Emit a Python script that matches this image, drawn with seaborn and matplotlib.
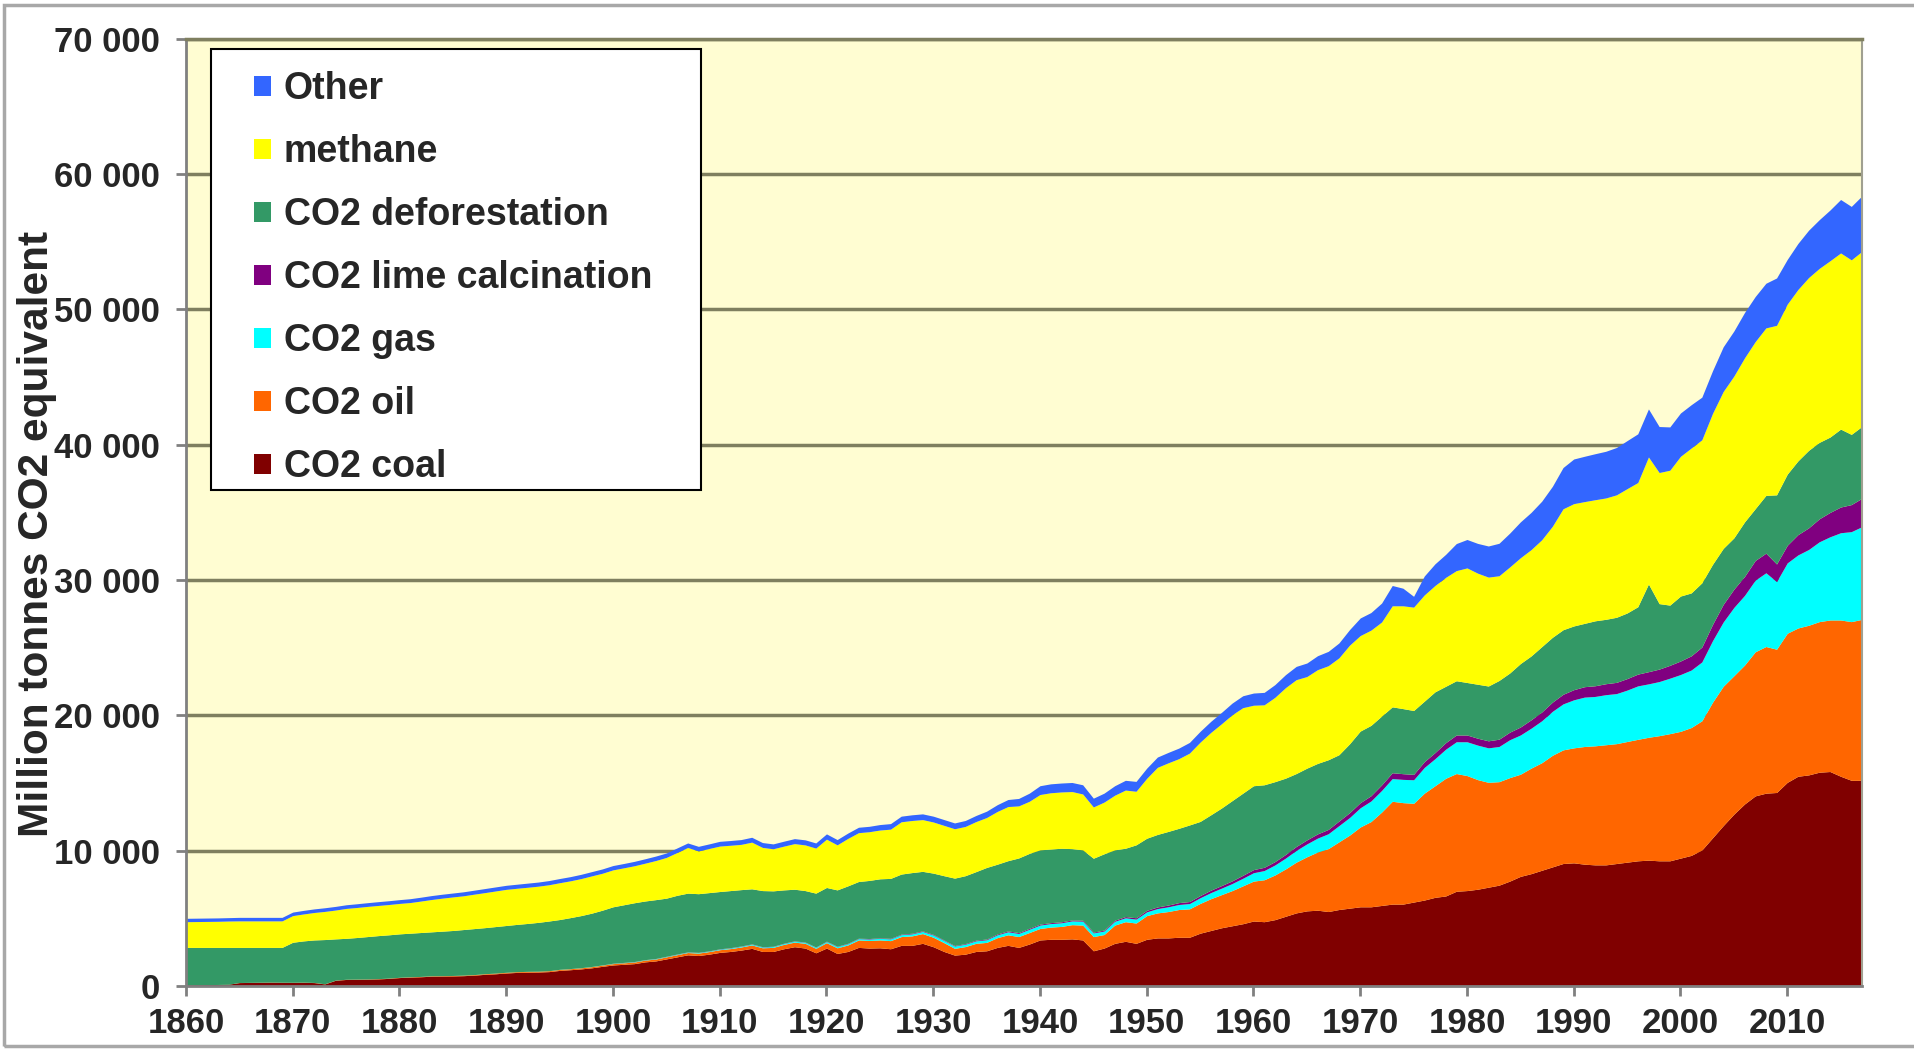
import matplotlib
matplotlib.use('Agg')
import matplotlib.pyplot as plt
import seaborn as sns
import pandas as pd
from matplotlib import font_manager
from matplotlib.ticker import FuncFormatter, MultipleLocator
from matplotlib.patches import Rectangle

# Million tonnes CO2 equivalent, one value per year 1860-2017
years = list(range(1860, 2018))

coal = [
    80, 90, 100, 110, 130, 250, 260, 270, 280, 270,
    260, 270, 250, 150, 420, 480, 490, 500, 520, 560,
    620, 650, 680, 720, 730, 740, 760, 800, 860, 900,
    960, 1000, 1020, 1030, 1060, 1150, 1200, 1260, 1340, 1450,
    1550, 1600, 1650, 1780, 1850, 2000, 2150, 2300, 2250, 2350,
    2480, 2550, 2650, 2780, 2550, 2550, 2750, 2900, 2800, 2450,
    2800, 2400, 2550, 2850, 2800, 2820, 2750, 3000, 3000, 3150,
    2900, 2550, 2280, 2350, 2550, 2600, 2850, 3000, 2850, 3100,
    3400, 3450, 3450, 3480, 3400, 2600, 2800, 3150, 3300, 3150,
    3450, 3550, 3550, 3600, 3600, 3900, 4100, 4300, 4450, 4600,
    4800, 4750, 4900, 5150, 5400, 5550, 5600, 5500, 5650, 5750,
    5850, 5850, 5950, 6050, 6050, 6200, 6350, 6550, 6650, 7000,
    7050, 7150, 7300, 7450, 7750, 8100, 8300, 8550, 8800, 9050,
    9100, 9000, 8950, 8950, 9050, 9150, 9250, 9300, 9250, 9250,
    9450, 9650, 10050, 10950, 11850, 12700, 13450, 14050, 14250, 14300,
    15050, 15500, 15600, 15800, 15850, 15500, 15200, 15200,
]

oil = [
    0, 0, 0, 0, 0, 5, 5, 5, 5, 5,
    10, 10, 10, 10, 10, 15, 15, 15, 20, 20,
    20, 25, 25, 30, 30, 35, 40, 40, 45, 50,
    50, 55, 60, 60, 65, 70, 75, 80, 85, 90,
    100, 110, 120, 130, 140, 150, 160, 170, 180, 190,
    200, 210, 230, 250, 270, 300, 320, 340, 350, 330,
    400, 420, 480, 550, 560, 580, 600, 650, 700, 720,
    700, 650, 500, 560, 600, 620, 720, 780, 800, 850,
    850, 900, 950, 1050, 1100, 1050, 1000, 1350, 1450, 1500,
    1750, 1850, 1950, 2050, 2100, 2200, 2350, 2450, 2600, 2800,
    2950, 3100, 3300, 3500, 3750, 4000, 4300, 4650, 5000, 5400,
    5900, 6300, 6900, 7600, 7500, 7300, 7900, 8250, 8700, 8700,
    8500, 8100, 7750, 7650, 7650, 7550, 7800, 7950, 8250, 8400,
    8500, 8700, 8800, 8880, 8860, 8920, 8980, 9080, 9250, 9400,
    9370, 9450, 9550, 10020, 10300, 10230, 10270, 10650, 10840, 10590,
    11020, 10960, 11060, 11130, 11200, 11550, 11730, 11900,
]

gas = [
    0, 0, 0, 0, 0, 0, 0, 0, 0, 0,
    0, 0, 0, 0, 0, 0, 0, 0, 0, 0,
    0, 0, 0, 0, 0, 0, 0, 0, 0, 0,
    0, 0, 0, 0, 0, 10, 10, 10, 15, 15,
    20, 20, 25, 25, 30, 30, 35, 35, 40, 40,
    45, 50, 55, 60, 60, 65, 70, 75, 75, 80,
    85, 90, 95, 100, 110, 120, 130, 140, 150, 160,
    165, 165, 170, 175, 185, 195, 210, 225, 230, 240,
    250, 260, 270, 280, 290, 270, 260, 280, 290, 290,
    280, 320, 350, 370, 390, 420, 450, 480, 520, 560,
    620, 680, 740, 800, 870, 950, 1030, 1100, 1200, 1300,
    1420, 1520, 1600, 1680, 1720, 1740, 1900, 2000, 2150, 2350,
    2500, 2550, 2550, 2600, 2800, 2900, 2950, 3100, 3250, 3400,
    3550, 3650, 3650, 3700, 3700, 3800, 3950, 3950, 4000, 4100,
    4200, 4250, 4350, 4550, 4750, 5050, 5150, 5300, 5450, 5000,
    5200, 5400, 5600, 5900, 6150, 6450, 6650, 6850,
]

lime = [
    0, 0, 0, 0, 0, 0, 0, 0, 0, 0,
    0, 0, 0, 0, 0, 0, 0, 0, 0, 0,
    0, 0, 0, 0, 0, 0, 0, 0, 0, 0,
    0, 0, 0, 0, 0, 0, 0, 0, 0, 0,
    10, 10, 10, 10, 10, 15, 15, 15, 15, 15,
    20, 20, 20, 20, 20, 20, 20, 20, 20, 20,
    25, 25, 30, 30, 35, 35, 40, 40, 45, 45,
    45, 40, 40, 45, 50, 55, 60, 65, 65, 70,
    70, 70, 70, 70, 70, 60, 70, 80, 90, 100,
    110, 120, 130, 140, 150, 160, 180, 190, 200, 220,
    230, 240, 250, 270, 290, 300, 310, 320, 340, 360,
    380, 390, 410, 430, 420, 400, 430, 450, 480, 500,
    500, 510, 520, 540, 560, 590, 620, 650, 680, 710,
    750, 770, 790, 810, 830, 850, 870, 900, 920, 950,
    1000, 1050, 1100, 1200, 1300, 1350, 1400, 1450, 1450, 1300,
    1300, 1500, 1600, 1700, 1800, 1900, 2000, 2100,
]

deforestation = [
    2770, 2760, 2750, 2740, 2720, 2595, 2585, 2575, 2565, 2575,
    2960, 3050, 3140, 3270, 3050, 3025, 3075, 3135, 3180, 3200,
    3210, 3225, 3245, 3250, 3290, 3325, 3370, 3400, 3405, 3440,
    3460, 3495, 3540, 3610, 3675, 3680, 3765, 3850, 3940, 4045,
    4170, 4260, 4345, 4335, 4350, 4295, 4340, 4340, 4335, 4305,
    4235, 4220, 4165, 4070, 4150, 4095, 3940, 3815, 3805, 3980,
    3970, 4165, 4245, 4190, 4295, 4365, 4430, 4440, 4485, 4395,
    4530, 4745, 4980, 5020, 5065, 5290, 5160, 5190, 5515, 5540,
    5490, 5440, 5440, 5270, 5200, 5460, 5640, 5200, 5050, 5390,
    5330, 5360, 5440, 5490, 5660, 5480, 5570, 5730, 5930, 6070,
    6200, 6100, 5910, 5640, 5390, 5300, 5210, 5150, 4900, 5090,
    5290, 5200, 5090, 4870, 4810, 4720, 4470, 4490, 4170, 4010,
    3880, 3990, 4050, 4340, 4370, 4690, 4720, 4830, 4790, 4770,
    4710, 4680, 4800, 4760, 4810, 4850, 4980, 6480, 4840, 4450,
    4800, 4650, 4750, 4440, 4140, 3790, 4030, 3830, 4270, 5110,
    5260, 5450, 5730, 5650, 5570, 5760, 5190, 5310,
]

methane = [
    1900, 1910, 1920, 1930, 1950, 1960, 1960, 1960, 1960, 1960,
    1970, 1990, 2030, 2080, 2130, 2210, 2220, 2230, 2230, 2240,
    2250, 2265, 2325, 2390, 2440, 2480, 2495, 2545, 2590, 2630,
    2670, 2670, 2675, 2675, 2680, 2720, 2720, 2735, 2755, 2730,
    2730, 2730, 2735, 2795, 2890, 3010, 3165, 3375, 3160, 3260,
    3360, 3350, 3345, 3450, 3190, 3110, 3235, 3370, 3375, 3330,
    3570, 3330, 3505, 3610, 3600, 3605, 3640, 3865, 3850, 3825,
    3780, 3720, 3650, 3640, 3700, 3690, 3900, 4000, 3850, 3850,
    4090, 4160, 4160, 4220, 4130, 3790, 3820, 4040, 4300, 3960,
    4430, 4960, 5070, 5150, 5310, 5860, 6090, 6230, 6350, 6320,
    5950, 5910, 6230, 6690, 6940, 6770, 6930, 6950, 7160, 7290,
    7060, 7040, 6950, 7470, 7600, 7640, 7850, 7860, 8050, 8140,
    8470, 8210, 8050, 7740, 7840, 7820, 7860, 7900, 8210, 8940,
    9040, 9000, 8950, 8970, 9050, 9190, 9180, 9390, 9690, 9970,
    10330, 10710, 10570, 11160, 11600, 11960, 12130, 12350, 12380, 12530,
    12570, 12670, 12770, 12860, 13030, 13020, 12900, 12940,
]

other = [
    250, 250, 250, 250, 250, 260, 260, 260, 260, 260,
    260, 265, 265, 270, 270, 270, 275, 275, 280, 280,
    280, 285, 285, 290, 290, 290, 295, 295, 300, 300,
    300, 300, 305, 305, 310, 310, 310, 315, 315, 320,
    320, 320, 325, 325, 330, 330, 335, 335, 340, 340,
    350, 350, 355, 360, 360, 360, 365, 370, 375, 380,
    390, 390, 395, 400, 400, 405, 410, 415, 420, 425,
    430, 430, 430, 440, 450, 470, 500, 520, 550, 600,
    650, 660, 660, 670, 680, 650, 660, 700, 720, 730,
    750, 760, 770, 780, 790, 800, 820, 840, 860, 880,
    900, 920, 940, 960, 980, 1000, 1030, 1060, 1100, 1150,
    1300, 1300, 1400, 1500, 1300, 800, 1400, 1600, 1700, 2000,
    2100, 2200, 2300, 2400, 2500, 2650, 2750, 2850, 2950, 3050,
    3300, 3350, 3400, 3450, 3500, 3550, 3600, 3550, 3400, 3200,
    3200, 3200, 3150, 3150, 3300, 3330, 3350, 3330, 3300, 3500,
    3300, 3400, 3500, 3600, 3750, 3950, 3950, 4100,
]

labels = ['CO2 coal', 'CO2 oil', 'CO2 gas', 'CO2 lime calcination',
          'CO2 deforestation', 'methane', 'Other']
colors = ['#800000', '#FF6600', '#00FFFF', '#800080', '#339966', '#FFFF00', '#3366FF']

data = pd.DataFrame({
    'CO2 coal': coal,
    'CO2 oil': oil,
    'CO2 gas': gas,
    'CO2 lime calcination': lime,
    'CO2 deforestation': deforestation,
    'methane': methane,
    'Other': other,
}, index=years)

sns.set_style('white')
plt.rcParams['font.family'] = ['Liberation Sans', 'DejaVu Sans']
plt.rcParams['font.weight'] = 'bold'

# narrow face for tick labels if it is there
installed = {f.name for f in font_manager.fontManager.ttflist}
if 'Liberation Sans Narrow' in installed:
    tick_font = {'family': ['Liberation Sans Narrow', 'Liberation Sans'], 'weight': 'bold', 'size': 29}
else:
    tick_font = {'family': ['Liberation Sans', 'DejaVu Sans'], 'weight': 'bold', 'size': 25}

fig = plt.figure(figsize=(19.15, 10.49), dpi=100)
ax = fig.add_axes([0.0971, 0.0601, 0.8752, 0.9028])
ax.set_facecolor('#FFFDD2')

ax.stackplot(data.index, data[labels].T.values, labels=labels, colors=colors, linewidth=0)

ax.set_xlim(1860, 2017)
ax.set_ylim(0, 70000)
ax.xaxis.set_major_locator(MultipleLocator(10))
ax.yaxis.set_major_locator(MultipleLocator(10000))
ax.yaxis.set_major_formatter(FuncFormatter(lambda v, p: '0' if v == 0 else f'{int(v):,}'.replace(',', ' ')))
ax.set_axisbelow(True)
ax.yaxis.grid(True, color='#7F7F5F', linewidth=2.5)
ax.xaxis.grid(False)

for side in ['left', 'bottom']:
    ax.spines[side].set_color('#808080')
    ax.spines[side].set_linewidth(2)
ax.spines['top'].set_color('#7F7F5F')
ax.spines['top'].set_linewidth(2.5)
ax.spines['right'].set_color('#A0A090')
ax.spines['right'].set_linewidth(1.5)

ax.tick_params(axis='both', direction='out', length=7, width=2, color='#808080', bottom=True, left=True)
ax.tick_params(axis='y', pad=12)
ax.tick_params(axis='x', pad=8)
for t in ax.get_xticklabels() + ax.get_yticklabels():
    t.set_fontproperties(font_manager.FontProperties(**tick_font))

ax.set_ylabel('Million tonnes CO2 equivalent', fontsize=30.5, fontweight='bold')
ax.yaxis.set_label_coords(-0.077, 0.477)

# legend box
ax.add_patch(Rectangle((0.0149, 0.5238), 0.2924, 0.4656, transform=ax.transAxes,
                       facecolor='white', edgecolor='black', linewidth=1.5, zorder=4))
handles, labs = ax.get_legend_handles_labels()
leg = ax.legend(handles[::-1], labs[::-1], loc='upper left', bbox_to_anchor=(0.0405, 0.966),
                borderaxespad=0, borderpad=0, frameon=False, handlelength=0.45, handleheight=0.45,
                handletextpad=0.35, labelspacing=0.72,
                prop={'family': ['Liberation Sans', 'DejaVu Sans'], 'weight': 'bold', 'size': 27})
leg.set_zorder(5)

# outer chart frame
fig.patches.append(Rectangle((0.002, 0.003), 1.2, 0.992, transform=fig.transFigure,
                             fill=False, edgecolor='#A8A8A8', linewidth=2.5))

plt.savefig('out.png', dpi=100, facecolor='white')
